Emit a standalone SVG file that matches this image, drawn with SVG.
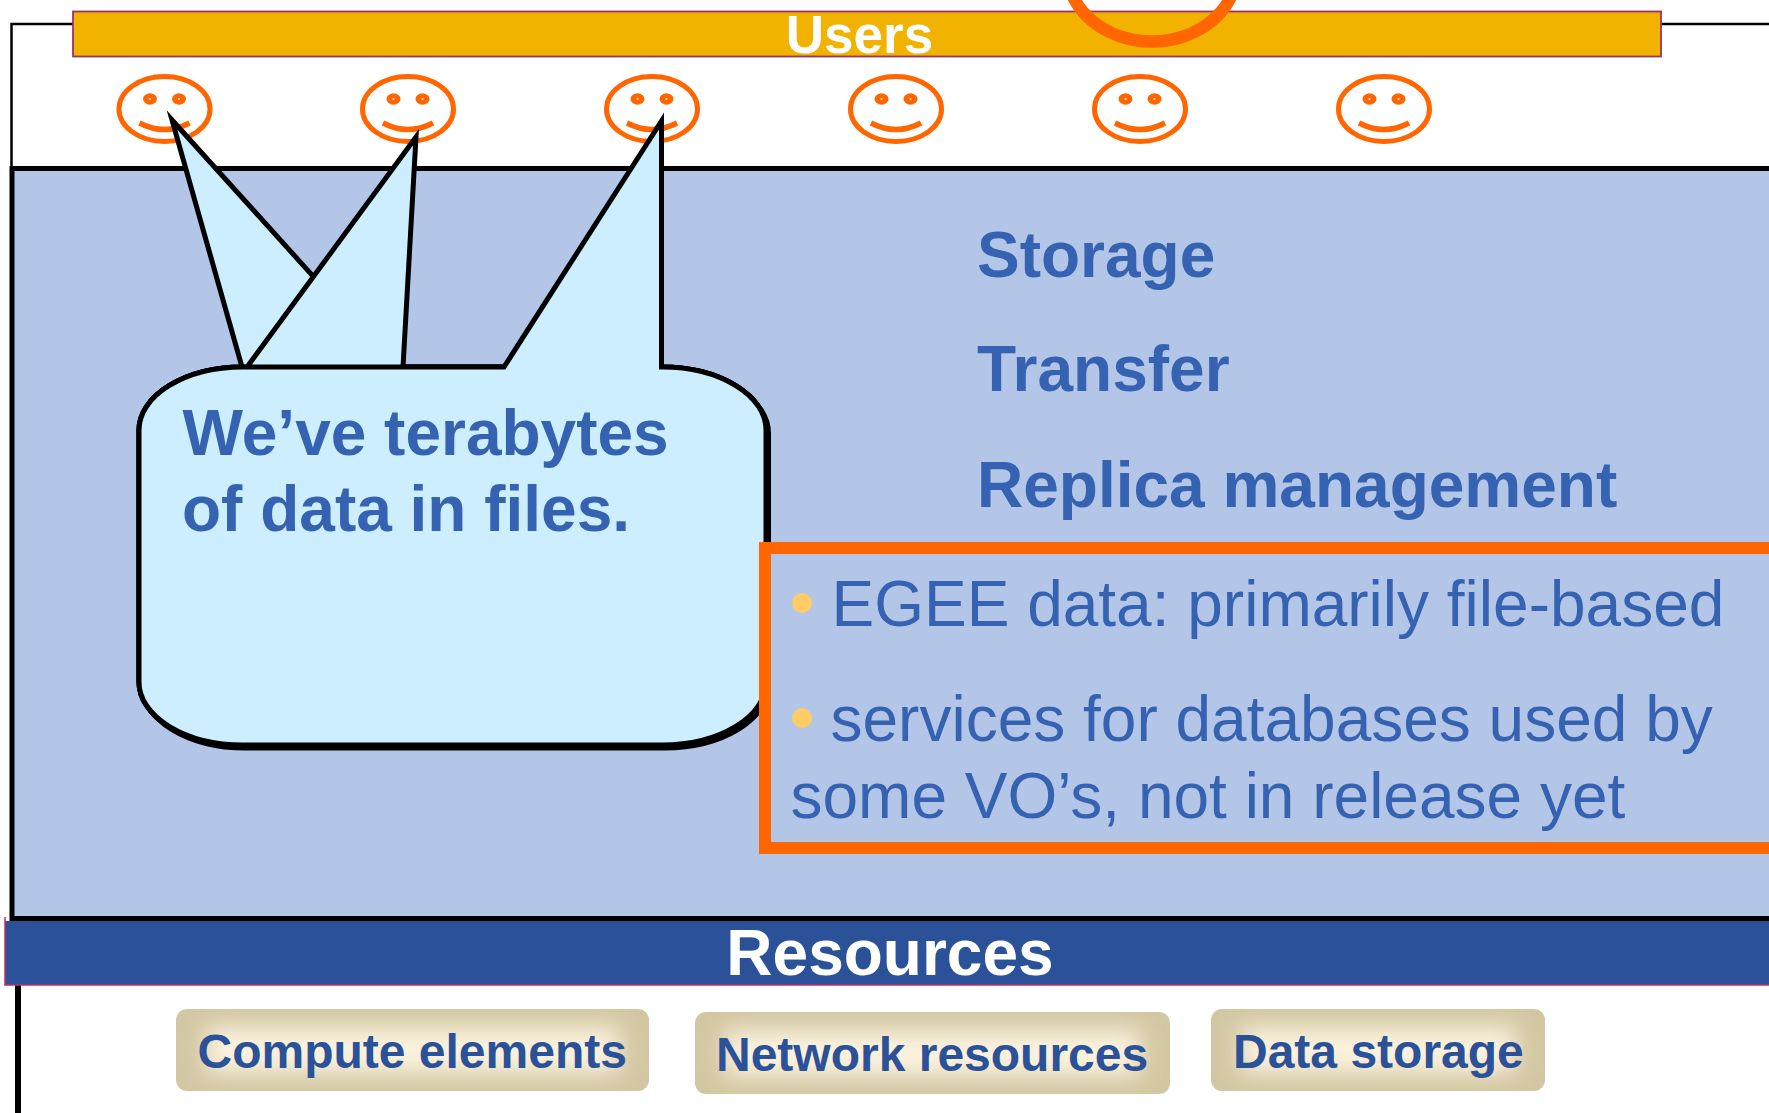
<svg xmlns="http://www.w3.org/2000/svg" width="1769" height="1113" viewBox="0 0 1769 1113">
<style>
text{font-family:"Liberation Sans",Arial,sans-serif}
.b{font-weight:bold}
.lab{font-size:64px;font-weight:bold;fill:#3562b1}
.bul{font-size:64px;fill:#3562b1}
.chip{font-size:48px;font-weight:bold;fill:#2b5299}
.sm{fill:none;stroke:#ff6600;stroke-width:5}
.eye{fill:#ff6600}
.pupil{fill:#fff}
.mouth{fill:none;stroke:#ff6600;stroke-width:5.500}
.call{fill:#cceeff;stroke:#000;stroke-width:5;stroke-miterlimit:30}
.shadow{fill:#000;stroke:#000;stroke-width:5}
.base{fill:#d3c7a3}
.glow{fill:#fbf2de;filter:url(#bl)}
</style>
<defs>
<filter id="bl" x="-20%" y="-60%" width="140%" height="220%"><feGaussianBlur stdDeviation="11"/></filter>
<g id="smile">
<ellipse class="sm" cx="0" cy="0" rx="45.500" ry="32.500"/>
<ellipse class="eye" cx="-14.500" cy="-10" rx="7" ry="5.700"/>
<ellipse class="eye" cx="14.500" cy="-10" rx="7" ry="5.700"/>
<ellipse class="pupil" cx="-14.500" cy="-10" rx="1.200" ry="0.700"/>
<ellipse class="pupil" cx="14.500" cy="-10" rx="1.200" ry="0.700"/>
<path class="mouth" d="M-25 14Q0 27 25 14"/>
</g>
<clipPath id="c1"><rect x="176" y="1009" width="473" height="82" rx="11"/></clipPath>
<clipPath id="c2"><rect x="695" y="1012" width="475" height="82" rx="11"/></clipPath>
<clipPath id="c3"><rect x="1211" y="1009" width="334" height="82" rx="11"/></clipPath>
</defs>
<rect width="1769" height="1113" fill="#fff"/>
<g id="frame">
<path d="M11.500 168V24H1769" fill="none" stroke="#000" stroke-width="2.500"/>
<path d="M18 985V1113" fill="none" stroke="#000" stroke-width="6"/>
</g>
<g id="panel"><rect x="12" y="168.500" width="1790" height="750" fill="#b4c6e8" stroke="#000" stroke-width="5"/></g>
<g id="users-bar">
<rect x="73" y="11.500" width="1588" height="45" fill="#f2b200" stroke="#993366" stroke-width="1.800"/>
<text class="b" x="859.500" y="53" font-size="53" fill="#fff" text-anchor="middle">Users</text>
</g>
<ellipse id="highlight" cx="1152" cy="-30" rx="85" ry="71.500" fill="none" stroke="#ff6600" stroke-width="12.500"/>
<g id="users">
<use href="#smile" x="164.500" y="109"/>
<use href="#smile" x="408" y="109"/>
<use href="#smile" x="652" y="109"/>
<use href="#smile" x="896" y="109"/>
<use href="#smile" x="1140" y="109"/>
<use href="#smile" x="1384" y="109"/>
</g>
<g id="callout">
<path class="shadow" transform="translate(2.500 3)" d="M243 367H661.500A104 63 0 0 1 766 430V682A104 63 0 0 1 661.500 745H243A104 63 0 0 1 139 682V430A104 63 0 0 1 243 367Z"/>
<path class="call" d="M242 367L172 120L395 367H661.500A104 63 0 0 1 766 430V682A104 63 0 0 1 661.500 745H243A104 63 0 0 1 139 682V430A104 63 0 0 1 242 367Z"/>
<path class="call" d="M247 367L416 137L403 367H661.500A104 63 0 0 1 766 430V682A104 63 0 0 1 661.500 745H243A104 63 0 0 1 139 682V430A104 63 0 0 1 243 367Z"/>
<path class="call" d="M243 367H504L661.500 121V367A104 63 0 0 1 766 430V682A104 63 0 0 1 661.500 745H243A104 63 0 0 1 139 682V430A104 63 0 0 1 243 367Z"/>
<text class="lab" x="182.500" y="455">We’ve terabytes</text>
<text class="lab" x="182" y="531">of data in files.</text>
</g>
<g id="services">
<text class="lab" x="977" y="276.500">Storage</text>
<text class="lab" x="977" y="391">Transfer</text>
<text class="lab" x="977" y="506.500">Replica management</text>
</g>
<g id="note">
<rect x="765" y="548" width="1040" height="300" fill="none" stroke="#ff6600" stroke-width="12"/>
<circle cx="802" cy="603" r="10" fill="#ffcc66"/>
<circle cx="802" cy="718" r="10" fill="#ffcc66"/>
<text class="bul" x="831.500" y="626">EGEE data: primarily file-based</text>
<text class="bul" x="830.500" y="741">services for databases used by</text>
<text class="bul" x="790.500" y="818">some VO’s, not in release yet</text>
</g>
<g id="resources-bar">
<rect x="5" y="921" width="1770" height="64" fill="#2b5299"/>
<path d="M5 917V985H1769" fill="none" stroke="#c0305f" stroke-width="1.500"/>
<text class="b" x="890" y="975" font-size="64" fill="#fff" text-anchor="middle">Resources</text>
</g>
<g id="compute">
<rect class="base" x="176" y="1009" width="473" height="82" rx="11"/>
<g clip-path="url(#c1)"><rect class="glow" x="206" y="1027" width="413" height="46"/></g>
<text class="chip" x="197.500" y="1068">Compute elements</text>
</g>
<g id="network">
<rect class="base" x="695" y="1012" width="475" height="82" rx="11"/>
<g clip-path="url(#c2)"><rect class="glow" x="725" y="1030" width="415" height="46"/></g>
<text class="chip" x="716" y="1071">Network resources</text>
</g>
<g id="storage">
<rect class="base" x="1211" y="1009" width="334" height="82" rx="11"/>
<g clip-path="url(#c3)"><rect class="glow" x="1241" y="1027" width="274" height="46"/></g>
<text class="chip" x="1233" y="1068">Data storage</text>
</g>
</svg>
